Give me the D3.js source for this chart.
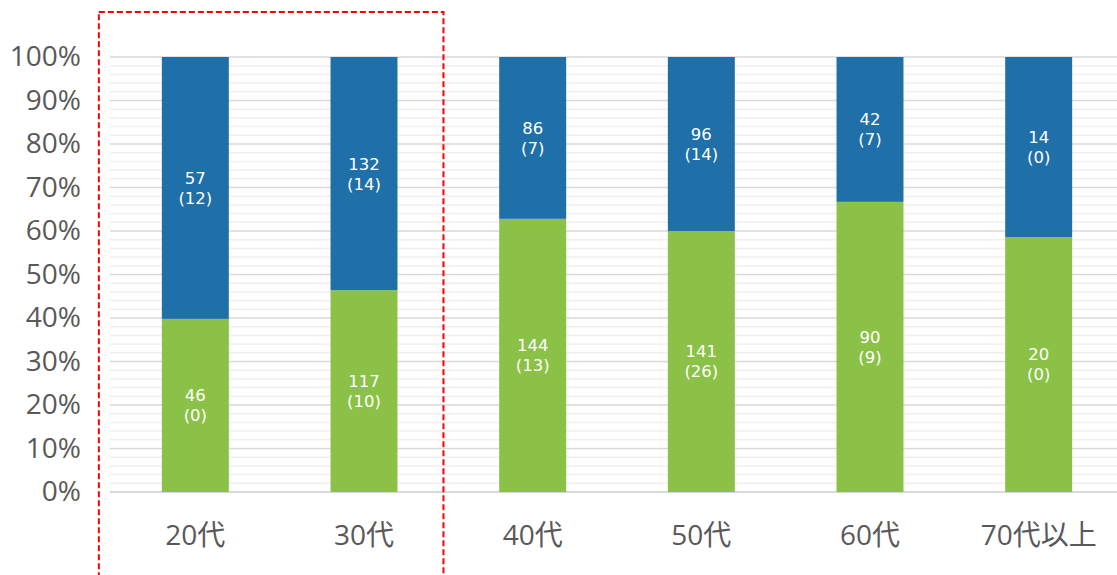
<!DOCTYPE html>
<html><head><meta charset="utf-8">
<script src="https://cdn.jsdelivr.net/npm/d3@7"></script>
<style>html,body{margin:0;padding:0;background:#fff;}svg{display:block;}</style>
</head><body>
<svg id="chart" width="1117" height="575"></svg>
<script>
const categories = ["20代", "30代", "40代", "50代", "60代", "70代以上"];
// share (%) of green segment
const greenPct = [39.8, 46.4, 62.8, 60.0, 66.7, 58.6];
const greenCount = [46, 117, 144, 141, 90, 20];
const greenSub = [0, 10, 13, 26, 9, 0];
const blueCount = [57, 132, 86, 96, 42, 14];
const blueSub = [12, 14, 7, 14, 7, 0];
const yTicks = [0, 10, 20, 30, 40, 50, 60, 70, 80, 90, 100];
const minorTicks = d3.range(0, 101, 2);

const svg = d3.select("#chart");
const x = d3.scaleBand().domain(categories).range([111, 1123]).paddingInner(0.603).paddingOuter(0.3015);
const y = d3.scaleLinear().domain([0, 100]).range([492, 57]);
const BLUE = "#1f6fa8", GREEN = "#8bc147";

// minor grid
svg.append("g").selectAll("line").data(minorTicks.filter(d => d % 10 !== 0)).join("line")
  .attr("x1", 110).attr("x2", 1117).attr("y1", d => y(d)).attr("y2", d => y(d))
  .attr("stroke", "#efefef").attr("stroke-width", 1.5);
// major grid
svg.append("g").selectAll("line").data(yTicks).join("line")
  .attr("x1", 110).attr("x2", 1117).attr("y1", d => y(d)).attr("y2", d => y(d))
  .attr("stroke", "#d9d9d9").attr("stroke-width", d => d === 0 ? 2 : 1.5);

// y axis labels
const yAxis = d3.axisLeft(y).tickValues(yTicks).tickFormat(d => d + "%").tickSize(0).tickPadding(0);
const ya = svg.append("g").attr("transform", "translate(81,0)").call(yAxis);
ya.select(".domain").remove();
ya.selectAll("text").attr("font-family", "'Open Sans','Noto Sans',sans-serif").attr("font-size", 28)
  .attr("fill", "#595959");

// x axis labels
const xAxis = d3.axisBottom(x).tickSize(0).tickPadding(0);
const xa = svg.append("g").attr("transform", "translate(0,525)").call(xAxis);
xa.select(".domain").remove();
xa.selectAll("text").attr("font-family", "'Open Sans','Noto Sans CJK JP',sans-serif").attr("font-size", 28)
  .attr("fill", "#595959").attr("dy", "0.71em");

const rows = categories.map((c, i) => ({ c, g: greenPct[i], gc: greenCount[i], gs: greenSub[i], bc: blueCount[i], bs: blueSub[i] }));

// bars
const bars = svg.append("g");
bars.selectAll("rect.g").data(rows).join("rect").attr("class", "g")
  .attr("x", d => x(d.c)).attr("width", x.bandwidth())
  .attr("y", d => y(d.g)).attr("height", d => y(0) - y(d.g)).attr("fill", GREEN);
bars.selectAll("rect.b").data(rows).join("rect").attr("class", "b")
  .attr("x", d => x(d.c)).attr("width", x.bandwidth())
  .attr("y", y(100)).attr("height", d => y(d.g) - y(100)).attr("fill", BLUE);

// labels
function label(sel, mid, l1, l2) {
  const g = sel.append("g").selectAll("g").data(rows).join("g")
    .attr("transform", d => `translate(${x(d.c) + x.bandwidth() / 2},${y(mid(d))})`);
  const common = t => t.attr("text-anchor", "middle").attr("fill", "#fff")
    .attr("font-family", "'DejaVu Sans',sans-serif").attr("font-size", 16.5).attr("dy", "0.36em");
  g.append("text").call(common).attr("y", -10).text(l1);
  g.append("text").call(common).attr("y", 10).text(l2);
}
label(svg, d => d.g / 2, d => d.gc, d => "(" + d.gs + ")");
label(svg, d => (d.g + 100) / 2, d => d.bc, d => "(" + d.bs + ")");

// red dashed highlight box around first two categories
const bx0 = x(categories[0]) - 63, bx1 = x(categories[1]) + x.bandwidth() + 46;
svg.append("rect").attr("x", bx0).attr("y", 12).attr("width", bx1 - bx0).attr("height", 600)
  .attr("fill", "none").attr("stroke", "#ff0000").attr("stroke-width", 2).attr("stroke-dasharray", "6,3");
</script>
</body></html>
